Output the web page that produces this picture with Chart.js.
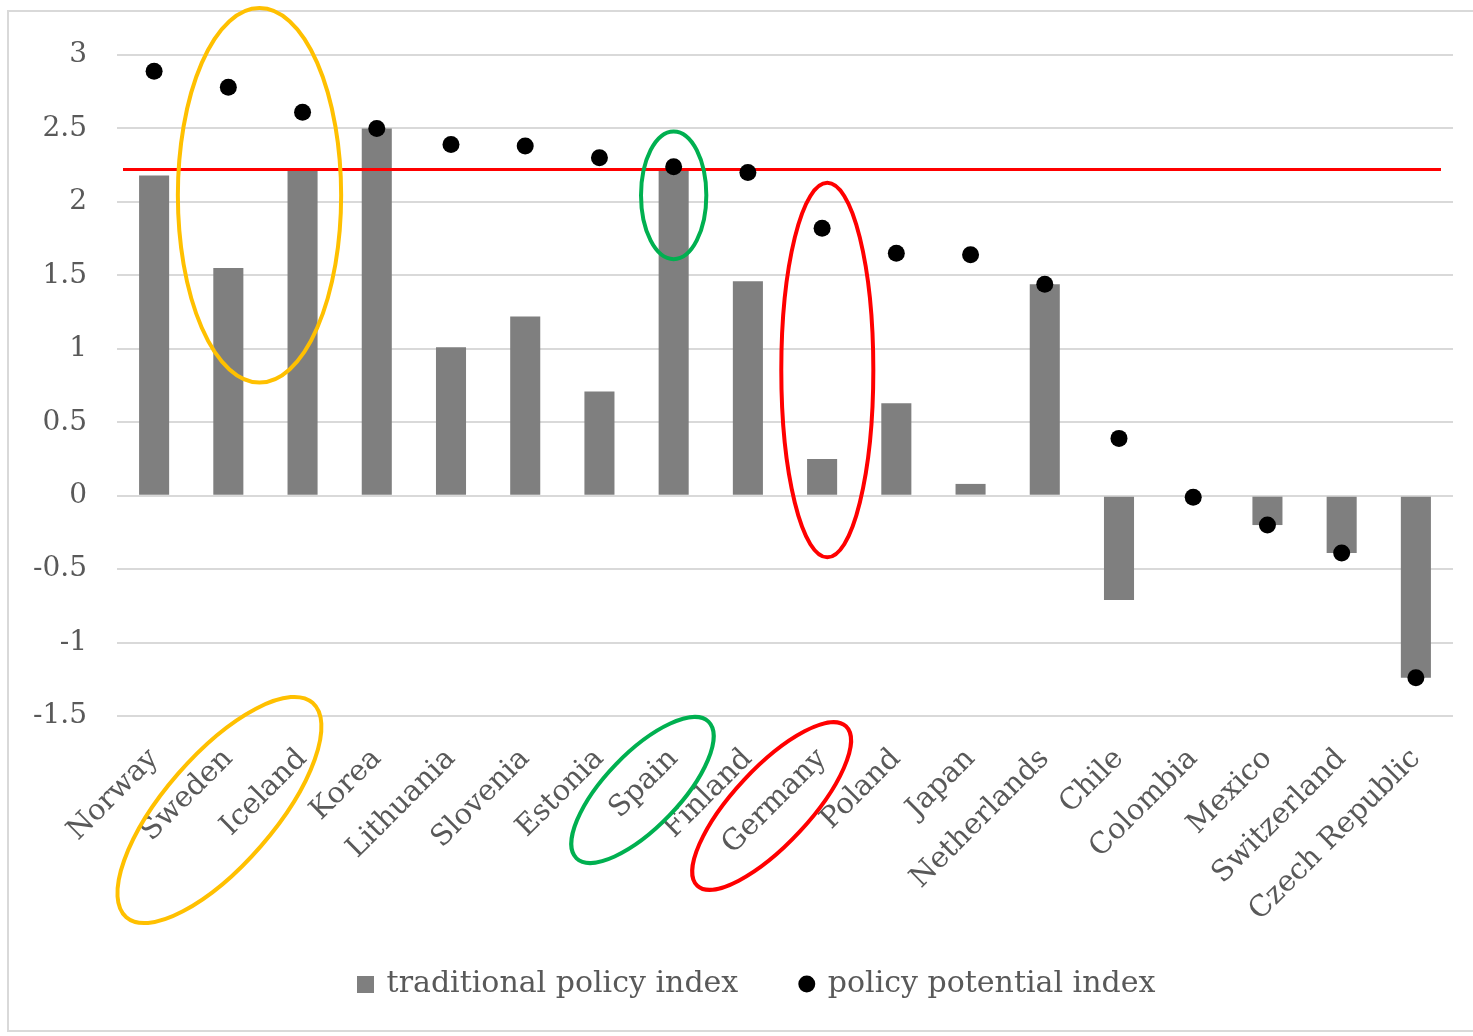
<!DOCTYPE html>
<html>
<head>
<meta charset="utf-8">
<script src="https://cdn.jsdelivr.net/npm/chart.js@4.4.1/dist/chart.umd.min.js"></script>
<style>
  html, body { margin: 0; padding: 0; background: #ffffff; }
  #wrap { width: 1473px; height: 1036px; }
</style>
</head>
<body>
<div id="wrap"><canvas id="chart" width="1473" height="1036"></canvas></div>
<script>
// Country order as plotted
const countries = ['Norway', 'Sweden', 'Iceland', 'Korea', 'Lithuania', 'Slovenia', 'Estonia', 'Spain',
  'Finland', 'Germany', 'Poland', 'Japan', 'Netherlands', 'Chile', 'Colombia', 'Mexico', 'Switzerland',
  'Czech Republic'];

// Bars: traditional policy index
const traditionalPolicyIndex = [2.18, 1.55, 2.22, 2.50, 1.01, 1.22, 0.71, 2.22, 1.46, 0.25, 0.63, 0.08,
  1.44, -0.71, 0.00, -0.20, -0.39, -1.24];

// Dots: policy potential index
const policyPotentialIndex = [2.89, 2.78, 2.61, 2.50, 2.39, 2.38, 2.30, 2.24, 2.20, 1.82, 1.65, 1.64,
  1.44, 0.39, -0.01, -0.20, -0.39, -1.24];

const yTickValues = [-1.5, -1, -0.5, 0, 0.5, 1, 1.5, 2, 2.5, 3];

// Horizontal benchmark line
const referenceLevel = 2.22;

const FONT = 'DejaVu Serif';
const TEXT = '#595959';
const BAR = '#7f7f7f';

// Highlight rings around groups of marks (category position, value span)
const valueRings = [
  { color: '#FFC000', at: 1.42, halfWidth: 1.10, high: 3.32, low: 0.77 },
  { color: '#00B050', at: 7.00, halfWidth: 0.44, high: 2.48, low: 1.61 },
  { color: '#FF0000', at: 9.07, halfWidth: 0.62, high: 2.13, low: -0.42 }
];
// Tilted rings around the matching country names
const labelRings = [
  { color: '#FFC000', at: 0.88, drop: 94, rx: 142, ry: 55, angle: -49 },
  { color: '#00B050', at: 6.58, drop: 74, rx: 95, ry: 37, angle: -46 },
  { color: '#FF0000', at: 8.32, drop: 90, rx: 109, ry: 38, angle: -47 }
];

// Square legend marker for the bar series
const squareMarker = document.createElement('canvas');
squareMarker.width = 17; squareMarker.height = 17;
(function () {
  const g = squareMarker.getContext('2d');
  g.fillStyle = BAR; g.fillRect(0, 0, 17, 17);
})();

// Let tick labels run outside their axis box instead of being cut off
const unclipLabels = (scale) => { scale._computeLabelArea = () => undefined; };

const decorations = {
  id: 'decorations',
  beforeDraw(chart) {
    const { ctx, width, height } = chart;
    ctx.save();
    ctx.fillStyle = '#ffffff';
    ctx.fillRect(0, 0, width, height);
    ctx.strokeStyle = '#d9d9d9';
    ctx.lineWidth = 2;
    ctx.strokeRect(8, 11, width, height - 16);
    ctx.restore();
  },
  afterDatasetDraw(chart, args) {
    if (args.index !== 0) return;
    const { ctx, chartArea, scales: { y } } = chart;
    const yRef = y.getPixelForValue(referenceLevel);
    ctx.save();
    ctx.strokeStyle = '#ff0000';
    ctx.lineWidth = 3;
    ctx.beginPath();
    ctx.moveTo(chartArea.left + 6, yRef);
    ctx.lineTo(chartArea.right - 12, yRef);
    ctx.stroke();
    ctx.restore();
  },
  afterDraw(chart) {
    const { ctx, chartArea, scales: { x, y } } = chart;
    const step = x.getPixelForValue(1) - x.getPixelForValue(0);
    ctx.save();
    ctx.lineWidth = 4;
    for (const r of valueRings) {
      const top = y.getPixelForValue(r.high);
      const bottom = y.getPixelForValue(r.low);
      ctx.strokeStyle = r.color;
      ctx.beginPath();
      ctx.ellipse(x.getPixelForValue(r.at), (top + bottom) / 2, r.halfWidth * step, (bottom - top) / 2, 0, 0, Math.PI * 2);
      ctx.stroke();
    }
    for (const r of labelRings) {
      ctx.strokeStyle = r.color;
      ctx.beginPath();
      ctx.ellipse(x.getPixelForValue(r.at), chartArea.bottom + r.drop, r.rx, r.ry, r.angle * Math.PI / 180, 0, Math.PI * 2);
      ctx.stroke();
    }
    ctx.restore();
  }
};

new Chart(document.getElementById('chart'), {
  type: 'bar',
  data: {
    labels: countries,
    datasets: [
      {
        label: 'traditional policy index',
        data: traditionalPolicyIndex,
        backgroundColor: BAR,
        categoryPercentage: 1,
        barPercentage: 0.405,
        order: 1
      },
      {
        type: 'line',
        label: 'policy potential index',
        data: policyPotentialIndex,
        showLine: false,
        pointRadius: 8.5,
        pointHoverRadius: 8.5,
        pointBackgroundColor: '#000000',
        pointBorderWidth: 0,
        borderColor: '#000000',
        backgroundColor: '#000000',
        order: 0
      }
    ]
  },
  options: {
    responsive: false,
    animation: false,
    devicePixelRatio: 1,
    layout: { padding: { left: 62, right: 20, top: 55, bottom: 27 } },
    scales: {
      x: {
        grid: { display: false },
        border: { display: false },
        ticks: {
          autoSkip: false,
          minRotation: 45,
          maxRotation: 45,
          padding: 18,
          color: TEXT,
          font: { family: FONT, size: 29 }
        },
        afterFit(scale) { scale.height = 190.5; unclipLabels(scale); }
      },
      y: {
        min: -1.5,
        max: 3,
        grid: { color: '#d9d9d9', lineWidth: 2, drawTicks: false },
        border: { display: false },
        ticks: {
          padding: 30,
          color: TEXT,
          font: { family: FONT, size: 28 },
          callback: (v) => String(v)
        },
        afterBuildTicks(scale) { scale.ticks = yTickValues.map(v => ({ value: v })); },
        afterFit(scale) { scale.width = 55; unclipLabels(scale); }
      }
    },
    plugins: {
      tooltip: { enabled: false },
      legend: {
        position: 'bottom',
        reverse: true,
        labels: {
          usePointStyle: true,
          boxWidth: 12,
          boxHeight: 12,
          padding: 62.5,
          color: TEXT,
          font: { family: FONT, size: 30 },
          generateLabels(chart) {
            const items = Chart.defaults.plugins.legend.labels.generateLabels(chart);
            items.forEach(it => {
              it.pointStyle = it.datasetIndex === 0 ? squareMarker : 'circle';
              it.lineWidth = 0;
              it.fontColor = TEXT;
            });
            return items;
          }
        }
      }
    }
  },
  plugins: [decorations]
});
</script>
</body>
</html>
